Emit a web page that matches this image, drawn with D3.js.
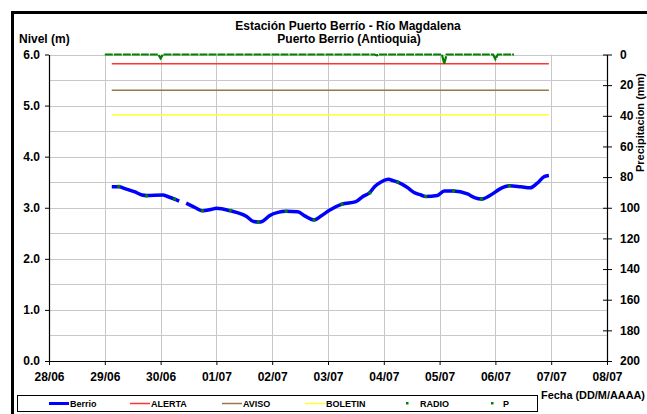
<!DOCTYPE html>
<html><head><meta charset="utf-8">
<script src="https://cdn.jsdelivr.net/npm/d3@7"></script>
<style>body{margin:0;background:#fff}svg{display:block;font-family:"Liberation Sans",Arial,sans-serif;font-weight:bold}</style>
</head><body><svg id="c" width="647" height="414"></svg>
<script>
// ---- data ----
const berrioTimes = ["29/06 03:00","29/06 06:00","29/06 09:00","29/06 13:00","29/06 16:00","29/06 18:00","30/06 01:00","30/06 03:00","30/06 06:00","30/06 08:00","30/06 09:30",
"30/06 11:00","30/06 15:00","30/06 18:00","30/06 22:00","01/07 00:00","01/07 06:00","01/07 13:00","01/07 16:00","01/07 18:00","01/07 20:00","01/07 23:00",
"02/07 02:30","02/07 06:00","02/07 11:00","02/07 14:00","02/07 18:00","02/07 21:00","03/07 01:00","03/07 06:00","03/07 12:00","03/07 15:00","03/07 18:00",
"03/07 20:00","03/07 23:00","04/07 02:00","04/07 04:00","04/07 06:00","04/07 10:00","04/07 13:00","04/07 16:00","04/07 18:00","04/07 23:00","05/07 02:00",
"05/07 06:00","05/07 12:00","05/07 15:00","05/07 18:00","05/07 22:00","06/07 02:00","06/07 06:00","06/07 11:00","06/07 15:00","06/07 18:00","06/07 21:00","06/07 23:00"];
const berrioValues = [3.41,3.41,3.37,3.31,3.25,3.24,3.25,3.22,3.17,3.13,null,
3.09,3.00,2.94,2.97,2.99,2.94,2.83,2.73,2.72,2.74,2.85,
2.91,2.93,2.92,2.84,2.76,2.84,2.96,3.07,3.12,3.22,3.30,
3.41,3.51,3.56,3.53,3.50,3.40,3.30,3.25,3.22,3.24,3.33,
3.33,3.27,3.20,3.17,3.25,3.37,3.43,3.41,3.39,3.48,3.61,3.63];
const radioTimes = ["29/06 06:00","29/06 18:00","30/06 06:00","30/06 18:00","01/07 06:00","01/07 18:00","02/07 06:00","02/07 18:00",
"03/07 06:00","03/07 18:00","04/07 06:00","04/07 18:00","05/07 06:00","05/07 18:00","06/07 06:00"];
const radioValues = [3.42,3.23,3.17,2.94,2.95,2.72,2.93,2.76,3.07,3.29,3.50,3.22,3.33,3.17,3.43];
const pTimes = ["29/06 00:00","29/06 23:00","30/06 00:00","30/06 01:00","03/07 20:00","03/07 21:00","03/07 22:00","05/07 01:00","05/07 02:00","05/07 03:00","05/07 23:00","06/07 00:00","06/07 01:00","06/07 08:00"];
const pValues = [0,0,2.5,0,0,0.6,0,0,6,0,0,3,0,0];
const thresholdNames = ["ALERTA","AVISO","BOLETIN"];
const thresholdValues = [5.82,5.30,4.82];
const thresholdSpan = ["29/06 03:00","06/07 23:00"];
const xTickLabels = ["28/06","29/06","30/06","01/07","02/07","03/07","04/07","05/07","06/07","07/07","08/07"];
const yTicks = [0,1,2,3,4,5,6];
const y2Ticks = [0,20,40,60,80,100,120,140,160,180,200];
const legendNames = ["Berrio","ALERTA","AVISO","BOLETIN","RADIO","P"];

// ---- chart ----
const parse = s => { const [d, t] = s.split(" "); const [dd, mm] = d.split("/"); const [hh, mi] = t.split(":"); return new Date(2013, +mm - 1, +dd, +hh, +mi); };
const svg = d3.select("#c");
const L = 49, R = 607, T = 54.5, B = 361;
const x = d3.scaleTime().domain([new Date(2013,5,28), new Date(2013,6,8)]).range([L, R]);
const y = d3.scaleLinear().domain([0, 6]).range([B, T]);
const y2 = d3.scaleLinear().domain([0, 200]).range([T, B]);
const col = {Berrio:"#0000ff", ALERTA:"#ff3333", AVISO:"#99774d", BOLETIN:"#ffff33", RADIO:"#008000", P:"#008000"};

svg.append("rect").attr("x",12.5).attr("y",12.5).attr("width",700).attr("height",500).attr("fill","none").attr("stroke","#000").attr("stroke-width",3);

// grid
const g = svg.append("g");
g.selectAll("line.h").data(d3.range(1, 13).map(i => i * 0.5)).join("line")
  .attr("x1", L).attr("x2", R).attr("y1", d => Math.round(y(d)) + 0.5).attr("y2", d => Math.round(y(d)) + 0.5)
  .attr("stroke", "#c8c8c8").attr("stroke-width", 1);
const dayTicks = xTickLabels.map(s => parse(s + " 00:00"));
g.selectAll("line.v").data(dayTicks.slice(1, -1)).join("line")
  .attr("x1", d => Math.round(x(d)) + 0.5).attr("x2", d => Math.round(x(d)) + 0.5).attr("y1", T).attr("y2", B)
  .attr("stroke", "#c8c8c8").attr("stroke-width", 1);

// axes
const fs = "12px";
const ax = svg.append("g").attr("transform", `translate(0,${B})`)
  .call(d3.axisBottom(x).tickValues(dayTicks).tickFormat((d, i) => xTickLabels[i]).tickSize(4).tickSizeOuter(0));
ax.selectAll("text").attr("font-size", fs).attr("font-weight", "bold").attr("font-family", "Liberation Sans").attr("fill", "#000").attr("dy", "1.1em");
const ay = svg.append("g").attr("transform", `translate(${L},0)`)
  .call(d3.axisLeft(y).tickValues(yTicks).tickFormat(d3.format(".1f")).tickSize(4).tickSizeOuter(0));
ay.selectAll("text").attr("font-size", fs).attr("font-weight", "bold").attr("font-family", "Liberation Sans").attr("fill", "#000").attr("x", -9);
const ay2 = svg.append("g").attr("transform", `translate(${R},0)`)
  .call(d3.axisRight(y2).tickValues(y2Ticks).tickSize(5).tickSizeOuter(0));
ay2.selectAll(".tick line").attr("x1", -4);
ay2.selectAll("text").attr("font-size", fs).attr("font-weight", "bold").attr("font-family", "Liberation Sans").attr("fill", "#000").attr("x", 13);
[ax, ay, ay2].forEach(a => a.select(".domain").attr("stroke", "#000").attr("stroke-width", 1.2));

// thresholds
thresholdNames.forEach((n, i) => {
  svg.append("line").attr("x1", x(parse(thresholdSpan[0]))).attr("x2", x(parse(thresholdSpan[1])))
    .attr("y1", y(thresholdValues[i])).attr("y2", y(thresholdValues[i])).attr("stroke", col[n]).attr("stroke-width", 1.5);
});

// P
const pData = pTimes.map((t, i) => ({t: parse(t), v: pValues[i]}));
svg.append("path").datum(pData).attr("fill", "none").attr("stroke", col.P).attr("stroke-width", 2.2)
  .attr("stroke-dasharray", "8,1")
  .attr("d", d3.line().x(d => x(d.t)).y(d => y2(d.v)));

// Berrio
const bData = berrioTimes.map((t, i) => ({t: parse(t), v: berrioValues[i]}));
svg.append("path").datum(bData).attr("fill", "none").attr("stroke", col.Berrio).attr("stroke-width", 3.5)
  .attr("stroke-linejoin", "round")
  .attr("d", d3.line().defined(d => d.v !== null).curve(d3.curveMonotoneX).x(d => x(d.t)).y(d => y(d.v)));

// RADIO
svg.selectAll("rect.radio").data(radioTimes.map((t, i) => ({t: parse(t), v: radioValues[i]}))).join("rect")
  .attr("x", d => x(d.t) - 1.5).attr("y", d => y(d.v) - 1.5).attr("width", 3).attr("height", 3).attr("fill", col.RADIO);

// titles
svg.append("text").attr("x", 348).attr("y", 30).attr("text-anchor", "middle").attr("font-size", "12px").text("Estación Puerto Berrío - Río Magdalena");
svg.append("text").attr("x", 349).attr("y", 43).attr("text-anchor", "middle").attr("font-size", "12px").text("Puerto Berrio (Antioquia)");
svg.append("text").attr("x", 19).attr("y", 43).attr("font-size", "12px").text("Nivel (m)");
svg.append("text").attr("x", 541).attr("y", 399).attr("font-size", "11px").attr("textLength", 104).attr("lengthAdjust", "spacingAndGlyphs").text("Fecha (DD/M/AAAA)");
svg.append("text").attr("transform", "translate(644,172) rotate(-90)").attr("font-size", "11px").text("Precipitacion (mm)");

// legend
svg.append("rect").attr("x", 17.5).attr("y", 395.5).attr("width", 520).attr("height", 16).attr("fill", "#fff").attr("stroke", "#000").attr("stroke-width", 1);
const lx = [49, 130, 222, 305, 397, 482];
legendNames.forEach((n, i) => {
  const gg = svg.append("g");
  if (n === "RADIO" || n === "P") {
    gg.append("rect").attr("x", lx[i] + 9).attr("y", 402).attr("width", 2.5).attr("height", 2.5).attr("fill", col[n]);
  } else {
    gg.append("line").attr("x1", lx[i]).attr("x2", lx[i] + 20).attr("y1", 403.5).attr("y2", 403.5)
      .attr("stroke", col[n]).attr("stroke-width", n === "Berrio" ? 3 : 1.5);
  }
  gg.append("text").attr("x", lx[i] + (n === "RADIO" ? 23 : 21)).attr("y", 407).attr("font-size", "9px").text(n);
});
</script></body></html>
